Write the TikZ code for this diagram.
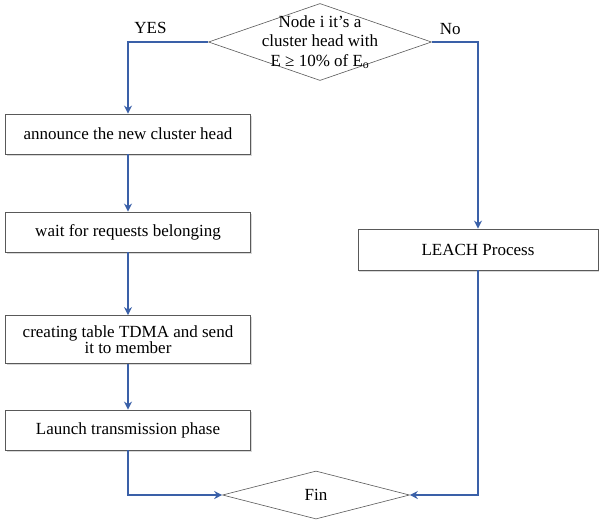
\documentclass[tikz,border=0pt]{standalone}
\usepackage{fontspec}
\setmainfont{Liberation Serif}
\usetikzlibrary{shapes.geometric}
\usetikzlibrary{arrows.meta}
\usetikzlibrary{shadows}
\definecolor{flowblue}{RGB}{58,96,168}

\begin{document}
\begin{tikzpicture}[x=1pt,y=-1pt,
    font=\fontsize{17}{17}\selectfont,
    stepbox/.style={draw=black!65, line width=0.8pt, fill=white,
        minimum width=245pt, minimum height=40pt, inner sep=0pt,
        drop shadow={shadow xshift=1.2pt, shadow yshift=-1.5pt, fill=black!30}},
    decision/.style={diamond, draw=black!65, line width=0.6pt, fill=white, inner sep=0pt},
    flow/.style={draw=flowblue, line width=1.8pt, -{Stealth[length=8pt,width=8pt]}}
]
\useasboundingbox (0,0) rectangle (599,525);

\node[decision, minimum width=223pt, minimum height=77pt,
    label={[align=center, font=\fontsize{17}{19.5}\selectfont]center:Node i it's a\\cluster head with\\E ≥ 10\% of E\textsubscript{o}}]
    (ask) at (320,42) {};
\node[decision, minimum width=187pt, minimum height=48pt] (fin) at (316,495) {Fin};

\node[stepbox] (announce) at (128,134) {announce the new cluster head};
\node[stepbox] (wait) at (128,232) {wait for requests belonging};
\node[stepbox, minimum height=48pt, align=center, font=\fontsize{17}{15.5}\selectfont]
    (tdma) at (128,339.5) {creating table TDMA and send\\it to member};
\node[stepbox] (launch) at (128,430) {Launch transmission phase};
\node[stepbox, minimum width=240pt, minimum height=41pt] (leach) at (478,249.5) {LEACH Process};

\draw[flow] (ask.west) -| (announce.north)
    node[pos=0.36, above=4pt, black] {YES};
\draw[flow] (ask.east) -| (leach.north)
    node[pos=0.2, above=3pt, black] {No};
\draw[flow] (announce) -- (wait);
\draw[flow] (wait) -- (tdma);
\draw[flow] (tdma) -- (launch);
\draw[flow] (launch.south) |- (fin.west);
\draw[flow] (leach.south) |- (fin.east);
\end{tikzpicture}
\end{document}
